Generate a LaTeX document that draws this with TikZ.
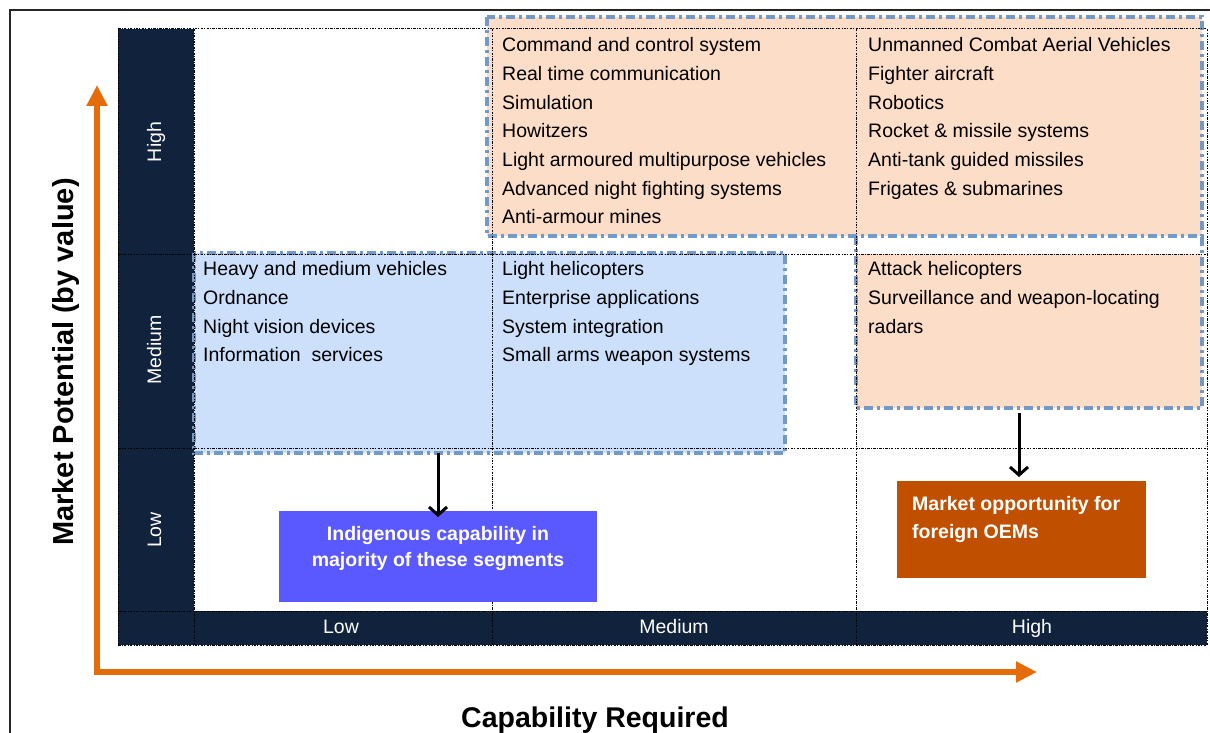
\documentclass[tikz,border=0pt]{standalone}
\usepackage{fontspec}
\setmainfont{Liberation Sans}
\usetikzlibrary{arrows.meta}
\definecolor{navy}{RGB}{16,34,60}
\definecolor{peach}{RGB}{252,221,200}
\definecolor{lightblue}{RGB}{204,224,252}
\definecolor{borderblue}{RGB}{115,153,198}
\definecolor{axisorange}{RGB}{228,108,10}
\definecolor{indigo}{RGB}{90,88,255}
\definecolor{rust}{RGB}{192,79,0}
\begin{document}
\begin{tikzpicture}[x=1pt,y=-1pt,
  gridline/.style={black, line width=1pt, dash pattern=on 2.5pt off 1.2pt on 1pt off 1.2pt},
  region/.style={draw=none, inner sep=0pt, outer sep=0pt},
  regionborder/.style={draw=borderblue, line width=3.5pt, dash pattern=on 9pt off 4pt on 3pt off 4pt},
  item/.style={anchor=north west, inner sep=0pt, align=left, text=black, font=\fontsize{19.5}{28.7}\selectfont},
  rowlabel/.style={anchor=base, inner sep=0pt, rotate=90, text=white, font=\fontsize{19.5}{22}\selectfont},
  collabel/.style={anchor=base, inner sep=0pt, text=white, font=\fontsize{19.5}{22}\selectfont},
  callout/.style={draw=none, inner sep=0pt, outer sep=0pt},
  callouttext/.style={inner sep=0pt, text=white, font=\bfseries\fontsize{19.5}{26}\selectfont},
  blackarrow/.style={black, line width=3pt, -{Straight Barb[length=8pt,width=18pt]}},
  axis/.style={axisorange, line width=6pt, line join=miter, {Triangle[length=21pt,width=20pt]}-{Triangle[length=21pt,width=20pt]}},
  axislabel/.style={anchor=base, inner sep=0pt, text=black, font=\bfseries\fontsize{29}{32}\selectfont}
]
\useasboundingbox (0,0) rectangle (1210,733);
% outer frame
\draw[line width=2pt, black!85] (10,760) -- (10,10) -- (1230,10);

% navy header column and row
\fill[navy] (118,29) rectangle (194,645);
\fill[navy] (118,611) rectangle (1207,645);

% coloured regions
\node[region, fill=peach, minimum width=715pt, minimum height=219pt] (peachA) at (844.5,126.5) {};
\node[region, fill=peach, minimum width=346pt, minimum height=154pt] (peachB) at (1029,331) {};
\node[region, fill=lightblue, minimum width=591pt, minimum height=200pt] (blue) at (489.5,353) {};
\draw[regionborder] (peachA.north west) rectangle (peachA.south east);
\draw[regionborder] (peachB.west |- peachA.south) -- (peachB.south west) -- (peachB.south east) -- (peachB.east |- peachA.south);
\draw[regionborder] (blue.north west) rectangle (blue.south east);

% grid
\foreach \yy in {29,254,448,611,645} \draw[gridline] (118,\yy) -- (1207,\yy);
\foreach \xx in {118,194,492,856,1207} \draw[gridline] (\xx,29) -- (\xx,645);

% row / column labels
\node[rowlabel] (rHigh) at (161,142) {High};
\node[rowlabel] (rMed) at (161,350) {Medium};
\node[rowlabel] (rLow) at (161,530) {Low};
\node[collabel] (cLow) at (341,633) {Low};
\node[collabel] (cMed) at (674,633) {Medium};
\node[collabel] (cHigh) at (1032,633) {High};

% cell items
\node[item] (hm) at (502,37.3) {Command and control system\\Real time communication\\Simulation\\Howitzers\\Light armoured multipurpose vehicles\\Advanced night fighting systems\\Anti-armour mines};
\node[item] (hh) at (868,37.3) {Unmanned Combat Aerial Vehicles\\Fighter aircraft\\Robotics\\Rocket \& missile systems\\Anti-tank guided missiles\\Frigates \& submarines};
\node[item] (ml) at (203,261.3) {Heavy and medium vehicles\\Ordnance\\Night vision devices\\Information\ \ services};
\node[item] (mm) at (502,261.3) {Light helicopters\\Enterprise applications\\System integration\\Small arms weapon systems};
\node[item] (mh) at (868,261.3) {Attack helicopters\\Surveillance and weapon-locating\\radars};

% callouts
\node[callout, fill=indigo, minimum width=318pt, minimum height=91pt] (ind) at (438,556.5) {};
\node[callouttext, anchor=north, align=center] (indtext) at (438,525.8) {Indigenous capability in\\majority of these segments};
\node[callout, fill=rust, minimum width=249pt, minimum height=97pt] (mkt) at (1021.5,529.5) {};
\node[callouttext, anchor=north west, align=left, font=\bfseries\fontsize{19.5}{28}\selectfont] (mkttext) at (912,495.8) {Market opportunity for\\foreign OEMs};

\draw[blackarrow, shorten >=-6pt] (ind.north |- blue.south) -- (ind.north);
\draw[blackarrow, shorten <=5pt, shorten >=4pt] ([xshift=-2.5pt]mkt.north |- peachB.south) -- ([xshift=-2.5pt]mkt.north);

% axes
\coordinate (origin) at (97,672);
\coordinate (ytip) at (97,85);
\coordinate (xtip) at (1037,672);
\draw[axis] (ytip) -- (origin) -- (xtip);
\node[axislabel, rotate=90] (ylab) at (73.5,362) {Market Potential (by value)};
\node[axislabel, font=\bfseries\fontsize{28.5}{32}\selectfont] (xlab) at (595,727) {Capability Required};
\end{tikzpicture}
\end{document}
